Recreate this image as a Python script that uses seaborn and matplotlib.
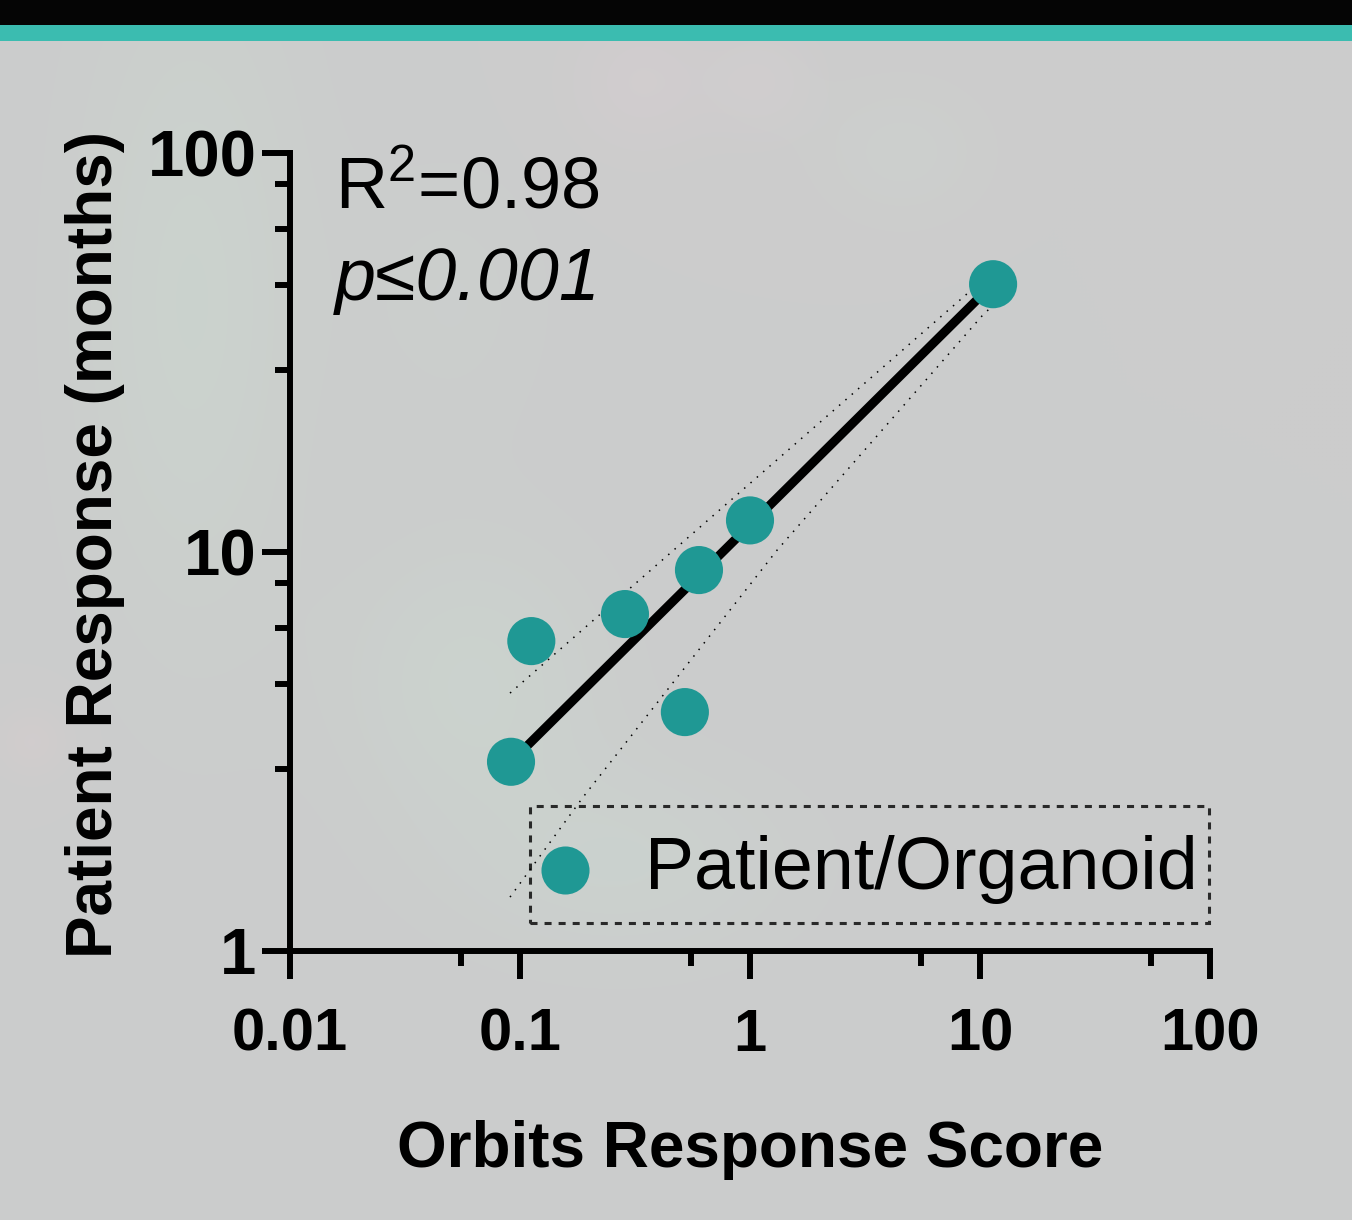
import numpy as np
import matplotlib
matplotlib.use("Agg")
import matplotlib.pyplot as plt
from matplotlib.lines import Line2D
from matplotlib.patches import Rectangle
from matplotlib.legend_handler import HandlerLine2D
from matplotlib.ticker import FixedLocator, NullFormatter
import seaborn as sns
import pandas as pd

# ---- data ----
orbits_score = [0.0914, 0.112, 0.286, 0.521, 0.600, 1.00, 11.4]
patient_months = [2.98, 5.98, 6.99, 3.97, 9.01, 12.0, 46.9]

# fitted power-law line (log10 y = slope * log10 x + intercept)
fit_slope = 0.5716
fit_intercept = 1.068

# confidence band (dotted)
band_upper_x = [0.0905, 11.4]
band_upper_y = [4.43, 50.6]
band_lower_x = [0.0905, 0.188, 1.31, 10.3, 11.4]
band_lower_y = [1.365, 2.43, 10.1, 39.3, 41.5]

x_major = [0.01, 0.1, 1, 10, 100]
x_major_labels = ["0.01", "0.1", "1", "10", "100"]
x_minor = [0.0553, 0.553, 5.53, 55.3]
y_major = [1, 10, 100]
y_major_labels = ["1", "10", "100"]
y_minor = [2.86, 4.68, 6.46, 8.36, 28.6, 46.8, 64.6, 83.6]

r2_text = "R$^{\\mathrm{2}}$=0.98"
p_text = "p\u22640.001"
legend_label = "Patient/Organoid"
xlabel = "Orbits Response Score"
ylabel = "Patient Response (months)"

# ---- style ----
sns.set_style("ticks")
plt.rcParams["font.family"] = ["Liberation Sans", "DejaVu Sans"]
plt.rcParams["mathtext.fontset"] = "custom"
plt.rcParams["mathtext.rm"] = "Liberation Sans"
plt.rcParams["mathtext.it"] = "Liberation Sans:italic"
for k in ["text.color", "axes.labelcolor", "xtick.color", "ytick.color", "axes.edgecolor"]:
    plt.rcParams[k] = "black"

teal = "#1f9894"
bg = "#cccccc"
W, H = 1352.0, 1220.0

fig = plt.figure(figsize=(13.52, 12.2), dpi=100)
fig.patch.set_facecolor(bg)

# faint background texture (decorative soft blotches)
bgax = fig.add_axes([0, 0, 1, 1], zorder=-10)
bgax.set_axis_off()
yy, xx = np.mgrid[0:int(H):4, 0:int(W):4]
img = np.ones(yy.shape + (3,)) * (204 / 255.0)
blobs = [  # (cx, cy, sx, sy, (dr, dg, db))
    (190, 300, 80, 240, (-0.004, 0.026, 0.006)),
    (470, 680, 90, 100, (-0.002, 0.026, 0.008)),
    (620, 860, 120, 70, (-0.004, 0.020, 0.008)),
    (640, 80, 50, 50, (0.020, 0.004, 0.010)),
    (760, 80, 40, 40, (0.016, 0.006, 0.010)),
    (900, 150, 60, 50, (0.000, 0.014, 0.006)),
    (30, 740, 25, 25, (0.020, 0.000, 0.004)),
    (450, 300, 70, 100, (-0.002, 0.010, 0.004)),
]
for cx, cy, sx, sy, d in blobs:
    g = np.exp(-(((xx - cx) / sx) ** 2 + ((yy - cy) / sy) ** 2) / 2)
    for c in range(3):
        img[..., c] += d[c] * g
bgax.imshow(np.clip(img, 0, 1), extent=[0, 1, 0, 1], aspect="auto",
            interpolation="bilinear", origin="upper")
bgax.set_xlim(0, 1)
bgax.set_ylim(0, 1)

# top banner
fig.patches.append(Rectangle((0, 1 - 25 / H), 1, 25 / H, transform=fig.transFigure,
                             facecolor="#050505", edgecolor="none", zorder=5))
fig.patches.append(Rectangle((0, 1 - 41 / H), 1, 16 / H, transform=fig.transFigure,
                             facecolor="#3bbcb0", edgecolor="none", zorder=5))

ax = fig.add_axes([290 / W, 1 - 951 / H, 920 / W, 798 / H])
ax.set_facecolor("none")
ax.set_xscale("log")
ax.set_yscale("log")
ax.set_xlim(0.01, 100)
ax.set_ylim(1, 100)

df = pd.DataFrame({"score": orbits_score, "months": patient_months})

# fit line
xf = np.array([min(orbits_score), max(orbits_score)])
yf = 10 ** (fit_slope * np.log10(xf) + fit_intercept)
ax.plot(xf, yf, color="black", lw=6.5, solid_capstyle="butt", zorder=2)

# confidence band
ax.plot(band_upper_x, band_upper_y, color="black", lw=1.1, ls=(0, (1, 4.5)), zorder=1)
ax.plot(band_lower_x, band_lower_y, color="black", lw=1.1, ls=(0, (1, 4.5)), zorder=1)

sns.scatterplot(data=df, x="score", y="months", ax=ax, s=1200, color=teal,
                edgecolor="none", legend=False, zorder=3)

# axes styling
for side in ["top", "right"]:
    ax.spines[side].set_visible(False)
for side in ["left", "bottom"]:
    ax.spines[side].set_linewidth(4.3)
    ax.spines[side].set_color("black")

ax.xaxis.set_major_locator(FixedLocator(x_major))
ax.set_xticklabels(x_major_labels)
ax.xaxis.set_minor_locator(FixedLocator(x_minor))
ax.xaxis.set_minor_formatter(NullFormatter())
ax.yaxis.set_major_locator(FixedLocator(y_major))
ax.set_yticklabels(y_major_labels)
ax.yaxis.set_minor_locator(FixedLocator(y_minor))
ax.yaxis.set_minor_formatter(NullFormatter())

ax.tick_params(which="major", length=20, width=4.3, color="black")
ax.tick_params(which="minor", length=11, width=4.3, color="black")
ax.tick_params(axis="x", which="major", pad=21, labelsize=43, labelcolor="black")
ax.tick_params(axis="y", which="major", pad=4, labelsize=47, labelcolor="black")
for lab in ax.get_xticklabels() + ax.get_yticklabels():
    lab.set_fontweight("bold")

ax.set_xlabel(xlabel, fontsize=46, fontweight="bold", labelpad=41, color="black")
ax.set_ylabel(ylabel, fontsize=46, fontweight="bold", color="black")
ax.yaxis.set_label_coords((125 - 290) / 920, (951 - 545) / 798)

ax.text(0.049, 0.932, r2_text, transform=ax.transAxes, fontsize=52,
        va="baseline", ha="left", color="black")
ax.text(0.049, 0.816, p_text, transform=ax.transAxes, fontsize=53,
        va="baseline", ha="left", style="italic", color="black")


class ShiftedMarkerHandler(HandlerLine2D):
    """Marker handle nudged down so it centres on the label's capitals."""
    def __init__(self, shift_pts=0.0, **kw):
        super().__init__(**kw)
        self.shift_pts = shift_pts

    def create_artists(self, legend, orig_handle, xdescent, ydescent, width,
                       height, fontsize, trans):
        arts = super().create_artists(legend, orig_handle, xdescent, ydescent,
                                      width, height, fontsize, trans)
        for a in arts:
            a.set_ydata(np.asarray(a.get_ydata(), dtype=float) - self.shift_pts)
        return arts


handle = Line2D([], [], marker="o", ls="", ms=34.6, color=teal, markeredgewidth=0)
leg = ax.legend([handle], [legend_label], loc="lower left",
                bbox_to_anchor=((530 - 290) / 920, 0.035), fontsize=53, frameon=True,
                fancybox=False, borderpad=0.15, handletextpad=0.76,
                handlelength=0.65, handleheight=1.61, borderaxespad=0,
                handler_map={handle: ShiftedMarkerHandler(shift_pts=12.4, numpoints=1)})
for t in leg.get_texts():
    t.set_color("black")
frame = leg.get_frame()
frame.set_facecolor("none")
frame.set_edgecolor("black")
frame.set_linewidth(2.2)
frame.set_linestyle((0, (2.3, 2.3)))

fig.savefig("out.png", dpi=100, facecolor=fig.get_facecolor())
